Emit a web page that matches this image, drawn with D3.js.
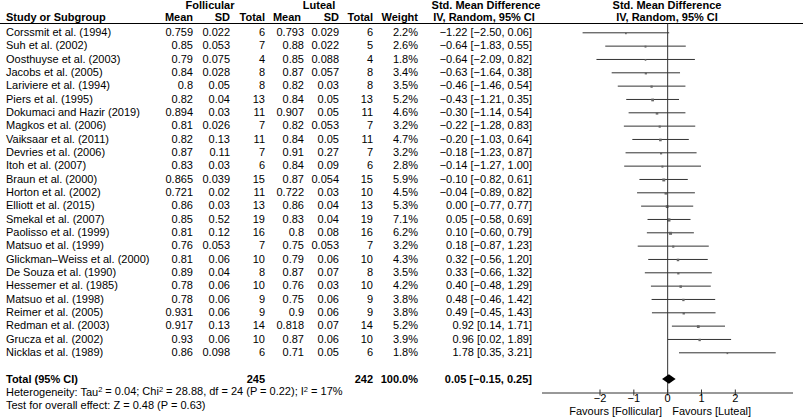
<!DOCTYPE html>
<html><head><meta charset="utf-8">
<script src="https://cdn.jsdelivr.net/npm/d3@7/dist/d3.min.js"></script>
<style>
body{margin:0;background:#fff;}
svg text{font-family:"Liberation Sans",Arial,sans-serif;font-size:11px;fill:#000;}
</style></head><body>
<svg id="chart" width="803" height="418"></svg>
<script>
const studies = ["Corssmit et al. (1994)","Suh et al. (2002)","Oosthuyse et al. (2003)","Jacobs et al. (2005)","Lariviere et al. (1994)","Piers et al. (1995)","Dokumaci and Hazir (2019)","Magkos et al. (2006)","Vaiksaar et al. (2011)","Devries et al. (2006)","Itoh et al. (2007)","Braun et al. (2000)","Horton et al. (2002)","Elliott et al. (2015)","Smekal et al. (2007)","Paolisso et al. (1999)","Matsuo et al. (1999)","Glickman\u2013Weiss et al. (2000)","De Souza et al. (1990)","Hessemer et al. (1985)","Matsuo et al. (1998)","Reimer et al. (2005)","Redman et al. (2003)","Grucza et al. (2002)","Nicklas et al. (1989)"];
const follMean = ["0.759","0.85","0.79","0.84","0.8","0.82","0.894","0.81","0.82","0.87","0.83","0.865","0.721","0.86","0.85","0.81","0.76","0.81","0.89","0.78","0.78","0.931","0.917","0.93","0.86"];
const follSD = ["0.022","0.053","0.075","0.028","0.05","0.04","0.03","0.026","0.13","0.11","0.03","0.039","0.02","0.03","0.52","0.12","0.053","0.06","0.04","0.06","0.06","0.06","0.13","0.06","0.098"];
const follN = [6,7,4,8,8,13,11,7,11,7,6,15,11,13,19,16,7,10,8,10,9,9,14,10,6];
const lutMean = ["0.793","0.88","0.85","0.87","0.82","0.84","0.907","0.82","0.84","0.91","0.84","0.87","0.722","0.86","0.83","0.8","0.75","0.79","0.87","0.76","0.75","0.9","0.818","0.87","0.71"];
const lutSD = ["0.029","0.022","0.088","0.057","0.03","0.05","0.05","0.053","0.05","0.27","0.09","0.054","0.03","0.04","0.04","0.08","0.053","0.06","0.07","0.03","0.06","0.06","0.07","0.06","0.05"];
const lutN = [6,5,4,8,8,13,11,7,11,7,6,15,10,13,19,16,7,10,8,10,9,9,14,10,6];
const weights = [2.2,2.6,1.8,3.4,3.5,5.2,4.6,3.2,4.7,3.2,2.8,5.9,4.5,5.3,7.1,6.2,3.2,4.3,3.5,4.2,3.8,3.8,5.2,3.9,1.8];
const smd = [-1.22,-0.64,-0.64,-0.63,-0.46,-0.43,-0.30,-0.22,-0.20,-0.18,-0.14,-0.10,-0.04,0.00,0.05,0.10,0.18,0.32,0.33,0.40,0.48,0.49,0.92,0.96,1.78];
const lower = [-2.50,-1.83,-2.09,-1.64,-1.46,-1.21,-1.14,-1.28,-1.03,-1.23,-1.27,-0.82,-0.89,-0.77,-0.58,-0.60,-0.87,-0.56,-0.66,-0.48,-0.46,-0.45,0.14,0.02,0.35];
const upper = [0.06,0.55,0.82,0.38,0.54,0.35,0.54,0.83,0.64,0.87,1.00,0.61,0.82,0.77,0.69,0.79,1.23,1.20,1.32,1.29,1.42,1.43,1.71,1.89,3.21];
const totalFollN = 245, totalLutN = 242, totalWeight = 100.0;
const totalSMD = 0.05, totalLower = -0.15, totalUpper = 0.25;
const axisTicks = [-2,-1,0,1,2];
const heteroText = ["Heterogeneity: Tau", "2", " = 0.04; Chi", "2", " = 28.88, df = 24 (P = 0.22); I", "2", " = 17%"];
const overallText = "Test for overall effect: Z = 0.48 (P = 0.63)";
const favourLeft = "Favours [Follicular]", favourRight = "Favours [Luteal]";

const svg = d3.select("#chart");
const fmt2 = v => d3.format(".2f")(v).replace("-", "\u2212");
const ciText = (e,l,u) => `${fmt2(e)} [${fmt2(l)}, ${fmt2(u)}]`;

const x = d3.scaleLinear().domain([-3.7, 3.72]).range([542, 793]);
const y = d3.scaleLinear().domain([0, 24]).range([32.3, 352.3]);
const ySize = d3.scaleSqrt().domain([0, 7.1]).range([0, 3.2]);
const yTotal = 379, yHet = 391.7, yTest = 405, yAxis = 392.5;

const cols = {study:6, fMean:193, fSD:230, fN:265, lMean:304, lSD:339, lN:373, w:418, ci:532};

// headers
const hdr = svg.append("g");
function ht(txt, xx, yy, anchor){ hdr.append("text").attr("x",xx).attr("y",yy).attr("text-anchor",anchor).attr("dy","0.35em").style("font-weight","bold").text(txt); }
ht("Follicular", 210, 5.5, "middle");
ht("Luteal", 319, 5.5, "middle");
ht("Std. Mean Difference", 486, 5.5, "middle");
ht("Std. Mean Difference", 667, 5.5, "middle");
ht("Study or Subgroup", cols.study, 17.5, "start");
ht("Mean", cols.fMean, 17.5, "end");
ht("SD", cols.fSD, 17.5, "end");
ht("Total", cols.fN, 17.5, "end");
ht("Mean", 301, 17.5, "end");
ht("SD", cols.lSD, 17.5, "end");
ht("Total", cols.lN, 17.5, "end");
ht("Weight", cols.w, 17.5, "end");
ht("IV, Random, 95% CI", 484, 17.5, "middle");
ht("IV, Random, 95% CI", 667, 17.5, "middle");

svg.append("line").attr("x1",0).attr("x2",803).attr("y1",23.5).attr("y2",23.5).attr("stroke","#000").attr("stroke-width",1);

// rows
const rows = svg.append("g").selectAll("g").data(studies).join("g")
  .attr("transform",(d,i)=>`translate(0,${y(i)})`);
function col(xx, anchor, fn){
  rows.append("text").attr("x",xx).attr("dy","0.35em").attr("text-anchor",anchor).text(fn);
}
col(cols.study, "start", d=>d);
col(cols.fMean, "end", (d,i)=>follMean[i]);
col(cols.fSD, "end", (d,i)=>follSD[i]);
col(cols.fN, "end", (d,i)=>follN[i]);
col(cols.lMean, "end", (d,i)=>lutMean[i]);
col(cols.lSD, "end", (d,i)=>lutSD[i]);
col(cols.lN, "end", (d,i)=>lutN[i]);
col(cols.w, "end", (d,i)=>weights[i].toFixed(1)+"%");
col(cols.ci, "end", (d,i)=>ciText(smd[i],lower[i],upper[i]));

// zero line
svg.append("line").attr("x1",x(0)+0.5).attr("x2",x(0)+0.5).attr("y1",23.5).attr("y2",yAxis).attr("stroke","#333").attr("stroke-width",1);

// CI lines
rows.append("line").attr("x1",(d,i)=>x(lower[i])).attr("x2",(d,i)=>x(upper[i]))
  .attr("y1",0.5).attr("y2",0.5).attr("stroke","#333").attr("stroke-width",1);
rows.append("rect")
  .attr("x",(d,i)=>x(smd[i])-ySize(weights[i])/2)
  .attr("y",(d,i)=>1-ySize(weights[i])/2)
  .attr("width",(d,i)=>ySize(weights[i]))
  .attr("height",(d,i)=>ySize(weights[i]))
  .attr("fill","#666");

// total row
const tot = svg.append("g").attr("transform",`translate(0,${yTotal})`);
function tt(txt, xx, anchor){ tot.append("text").attr("x",xx).attr("dy","0.35em").attr("text-anchor",anchor).style("font-weight","bold").text(txt); }
tt("Total (95% CI)", cols.study, "start");
tt(totalFollN, cols.fN, "end");
tt(totalLutN, cols.lN, "end");
tt(totalWeight.toFixed(1)+"%", cols.w, "end");
tt(ciText(totalSMD,totalLower,totalUpper), cols.ci, "end");
tot.append("path").attr("d", `M${x(totalLower)},0 L${x(totalSMD)},-4.8 L${x(totalUpper)},0 L${x(totalSMD)},4.8 Z`).attr("fill","#000");

// heterogeneity
const het = svg.append("text").attr("x",cols.study).attr("y",yHet).attr("dy","0.35em");
heteroText.forEach((t,i)=>{
  const sp = het.append("tspan").text(t);
  if (i%2===1) sp.attr("font-size","7.5px").attr("dy","-0.45em");
  else if (i>0) sp.attr("dy","0.3em");
});
svg.append("text").attr("x",cols.study).attr("y",yTest).attr("dy","0.35em").text(overallText);

// axis
const axis = d3.axisBottom(x).tickValues(axisTicks).tickSize(3).tickPadding(2).tickFormat(d3.format("d"));
const ag = svg.append("g").attr("transform",`translate(0,${yAxis})`).call(axis);
ag.select(".domain").attr("d",`M${x.range()[0]},0.5H${x.range()[1]}`).attr("stroke","#333");
ag.selectAll(".tick line").attr("y1",-3).attr("y2",3).attr("stroke","#333");
ag.selectAll(".tick text").attr("y",1.5).attr("font-family","Liberation Sans, Arial, sans-serif").attr("font-size","11px").attr("fill","#000");

svg.append("text").attr("x",x(0)-5).attr("y",414.5).attr("text-anchor","end").text(favourLeft);
svg.append("text").attr("x",x(0)+5).attr("y",414.5).attr("text-anchor","start").text(favourRight);
</script>
</body></html>
